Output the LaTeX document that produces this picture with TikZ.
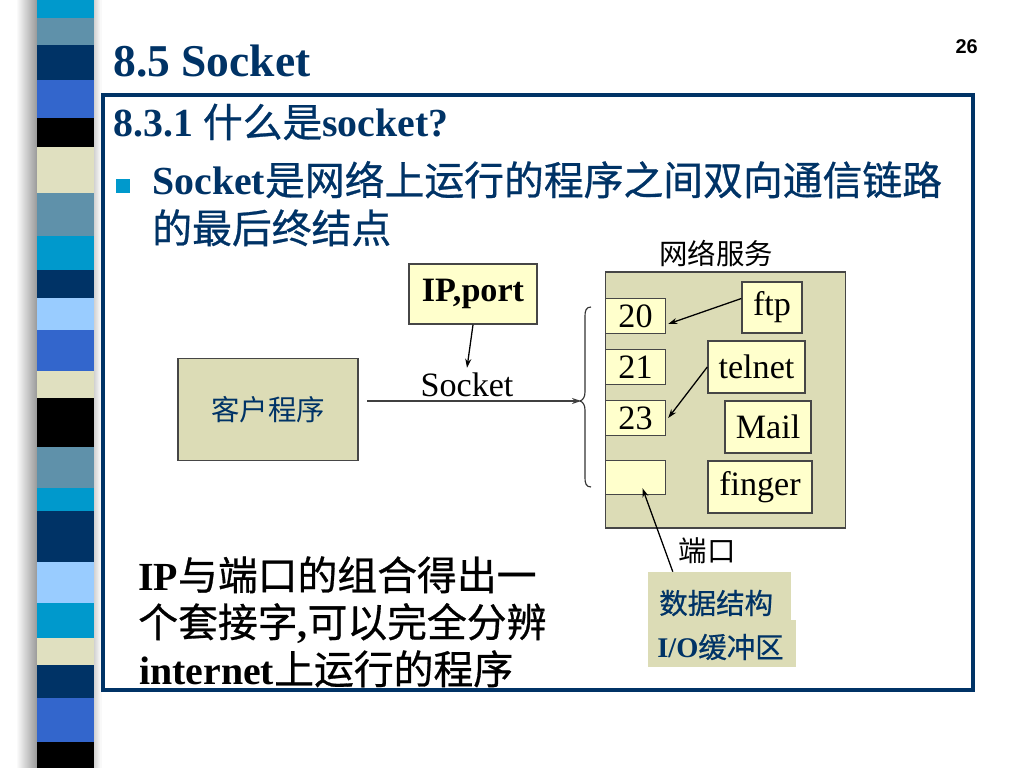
\documentclass[tikz,border=0pt]{standalone}
\usepackage{fontspec}
\setmainfont{Liberation Serif}
\newfontfamily\cjk{Noto Sans CJK SC}
\newfontfamily\cjkm[FakeBold=0.7]{Noto Sans CJK SC}
\newfontfamily\hv{Liberation Sans}
\usetikzlibrary{arrows.meta}
\definecolor{navy}{RGB}{0,51,102}
\definecolor{cyanb}{RGB}{0,153,204}
\definecolor{grayb}{RGB}{95,145,170}
\definecolor{royal}{RGB}{51,102,204}
\definecolor{beigeS}{RGB}{224,224,192}
\definecolor{lblue}{RGB}{153,204,255}
\definecolor{boxbeige}{RGB}{220,220,182}
\definecolor{lyellow}{RGB}{255,255,204}
\definecolor{edge}{RGB}{70,70,70}
\tikzset{
  box/.style={draw=edge, line width=1pt, inner sep=0pt},
  ybox/.style={box, fill=lyellow, font=\fontsize{24}{28}\selectfont},
  arr/.style={-{Stealth[length=6.3pt,width=4.2pt]}, line width=0.9pt, black},
  bigtxt/.style={anchor=base west, inner sep=0pt, font=\fontsize{28}{34}\selectfont\bfseries},
  cjktxt/.style={font=\cjk\fontsize{20}{24}\selectfont}
}
\begin{document}
\begin{tikzpicture}[x=0.703125pt, y=-0.703125pt]
\useasboundingbox (0,0) rectangle (1024,768);
\fill[white] (0,0) rectangle (1024,768);
% shadows of the strip
\foreach \i in {0,...,21}{
  \pgfmathsetmacro\g{1-0.019*\i}
  \definecolor{shc}{gray}{\g}
  \fill[shc] ({16+\i},0) rectangle ({17.5+\i},768);
}
\foreach \i in {0,...,7}{
  \pgfmathsetmacro\g{0.8+0.025*\i}
  \definecolor{shd}{gray}{\g}
  \fill[shd] ({93+\i},0) rectangle ({94.5+\i},768);
}
% stripes
\foreach \ya/\yb/\c in {0/18/cyanb, 18/45/grayb, 45/80/navy, 80/118/royal, 118/147/black,
  147/193/beigeS, 193/236/grayb, 236/270/cyanb, 270/298/navy, 298/330/lblue, 330/371/royal,
  371/398/beigeS, 398/447/black, 447/488/grayb, 488/511/cyanb, 511/562/navy, 562/603/lblue,
  603/638/cyanb, 638/665/beigeS, 665/698/navy, 698/742/royal, 742/768/black}
  \fill[\c] (37,\ya) rectangle (94,\yb);
% title and page number
\node[anchor=base west, inner sep=0pt, text=navy, font=\fontsize{32}{38}\selectfont\bfseries] (title) at (113,77) {8.5 Socket};
\node[anchor=base east, inner sep=0pt, font=\hv\fontsize{14}{16}\selectfont\bfseries] (pnum) at (978,54) {26};
% frame
\draw[navy, line width=2.5pt] (103,95) rectangle (973,690);
% heading texts
\node[bigtxt, text=navy] (head) at (113,137) {8.3.1 {\cjkm\mdseries 什么是}socket?};
\node[fill=cyanb, minimum size=10.5pt, inner sep=0pt] (bullet) at (123,186) {};
\node[bigtxt, text=navy] (line1) at (152,195) {Socket{\cjkm\mdseries 是网络上运行的程序之间双向通信链路}};
\node[bigtxt, text=navy] (line2) at (152,243) {{\cjkm\mdseries 的最后终结点}};
% client box
\node[box, fill=boxbeige, minimum width=126.6pt, minimum height=71.7pt, cjktxt, text=navy] (client) at (268,409.5) {客户程序};
% IP,port
\node[ybox, minimum width=90pt, minimum height=42.2pt, font=\fontsize{24}{28}\selectfont\bfseries] (ipport) at (473,294) {IP,port};
\node[anchor=base, inner sep=3pt, font=\fontsize{24}{28}\selectfont] (socklbl) at (467,396) {Socket};
\draw[arr] (ipport.south) -- (socklbl.north);
% socket line and brace
\coordinate (sockL) at (367,401);
\coordinate (bracetip) at (581,401);
\draw[-{Stealth[length=6.3pt,width=4.2pt]}, line width=1.1pt, black!75] (sockL) -- (bracetip);
\draw[line width=0.8pt, black!80] (591,307) .. controls (586,307) and (585,311) .. (585,316) -- (585,392)
  .. controls (585,397) and (583,400) .. (580,401) .. controls (583,402) and (585,405) .. (585,410)
  -- (585,478) .. controls (585,483) and (586,487) .. (591,487);
% services
\node[cjktxt] (svclbl) at (716,254) {网络服务};
\node[box, fill=boxbeige, minimum width=168.8pt, minimum height=180pt] (svc) at (725.5,400) {};
\node[ybox, minimum width=42.2pt, minimum height=24.6pt] (p20) at (635.5,316) {20};
\node[ybox, minimum width=42.2pt, minimum height=24.6pt] (p21) at (635.5,367) {21};
\node[ybox, minimum width=42.2pt, minimum height=24.6pt] (p23) at (635.5,418) {23};
\node[ybox, minimum width=42.2pt, minimum height=23.9pt] (pempty) at (635.5,477.5) {};
\node[ybox, minimum width=42.2pt, minimum height=35.9pt] (ftp) at (772,307.5) {ftp};
\node[ybox, minimum width=68.2pt, minimum height=36.6pt] (telnet) at (756.5,367) {telnet};
\node[ybox, minimum width=60.5pt, minimum height=36.6pt] (mail) at (768,427) {Mail};
\node[ybox, minimum width=73.1pt, minimum height=36.6pt] (finger) at (760,487) {finger};
\draw[arr] ([yshift=6.3pt]ftp.west) -- ([xshift=1.4pt,yshift=-5.6pt]p20.east);
\draw[arr] (telnet.west) -- ([xshift=1.4pt]p23.east);
% port label and data boxes
\node[cjktxt] (portlbl) at (707,551) {端口};
\node[fill=boxbeige, minimum width=100.5pt, minimum height=33.8pt, inner sep=0pt] (ds1) at (719.5,596) {};
\node[fill=boxbeige, minimum width=104.1pt, minimum height=33pt, inner sep=0pt] (ds2) at (722,643.5) {};
\node[anchor=west, inner sep=0pt, font=\cjkm\fontsize{20}{24}\selectfont, text=navy] (ds1t) at (659,603) {数据结构};
\node[anchor=west, inner sep=0pt, font=\cjkm\fontsize{20}{24}\selectfont, text=navy] (ds2t) at (657,647) {{\fontsize{20}{24}\selectfont\bfseries\rmfamily I/O}缓冲区};
\draw[arr] ([xshift=17.6pt]ds1.north west) -- ([xshift=4.9pt,yshift=4.9pt]pempty.south);
% bottom paragraph
\node[bigtxt] (b1) at (138,590) {IP{\cjkm\mdseries 与端口的组合得出一}};
\node[bigtxt] (b2) at (138,637) {{\cjkm\mdseries 个套接字},{\cjkm\mdseries 可以完全分辨}};
\node[bigtxt] (b3) at (139,684) {internet{\cjkm\mdseries 上运行的程序}};
\end{tikzpicture}
\end{document}
